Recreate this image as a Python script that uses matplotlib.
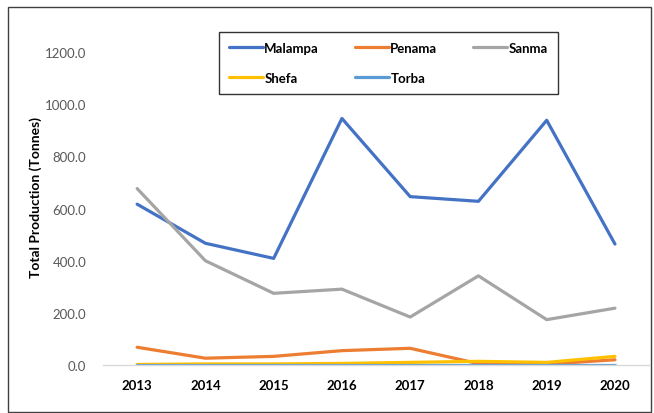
import matplotlib.pyplot as plt
from matplotlib.patches import Rectangle

years = ['2013', '2014', '2015', '2016', '2017', '2018', '2019', '2020']
malampa = [617, 467, 409, 946, 646, 628, 939, 464]
penama = [68, 26, 33, 55, 64, 5, 3, 20]
sanma = [677, 400, 275, 291, 184, 342, 174, 218]
shefa = [2, 4, 4, 6, 10, 14, 10, 33]
torba = [1, 1, 1, 1, 1, 1, 1, 1]

series = [
    ('Malampa', malampa, '#4472C4'),
    ('Penama', penama, '#ED7D31'),
    ('Sanma', sanma, '#A5A5A5'),
    ('Shefa', shefa, '#FFC000'),
    ('Torba', torba, '#5B9BD5'),
]

plt.rcParams['font.family'] = ['Lato', 'DejaVu Sans']

fig = plt.figure(figsize=(6.54, 4.14), dpi=100)
ax = fig.add_axes([0.1575, 0.116, 0.835, 0.812])

x = list(range(len(years)))
lines = {}
for name, vals, col in series:
    lines[name], = ax.plot(x, vals, color=col, lw=2.3, label=name, solid_capstyle='round')

ax.set_xlim(-0.5, len(years) - 0.5)
ax.set_ylim(0, 1290)
ax.set_yticks(range(0, 1201, 200))
ax.set_yticklabels([f'{v:.1f}' for v in range(0, 1201, 200)])
ax.set_xticks(x)
ax.set_xticklabels(years, fontweight='bold')

for s in ['top', 'right', 'left']:
    ax.spines[s].set_visible(False)
ax.spines['bottom'].set_color('#D9D9D9')
ax.spines['bottom'].set_linewidth(1)
ax.tick_params(axis='both', length=0)
ax.tick_params(axis='y', labelsize=9.5, labelcolor='#595959', pad=12)
ax.tick_params(axis='x', labelsize=9.5, labelcolor='black', pad=10)

ax.set_ylabel('Total Production (Tonnes)', fontsize=10, fontweight='bold', labelpad=2)

# legend fills column by column, so reorder to read row by row
order = ['Malampa', 'Shefa', 'Penama', 'Torba', 'Sanma']
leg = ax.legend([lines[n] for n in order], order, ncol=3, loc='upper left',
                bbox_to_anchor=(0.2, 1.01),
                frameon=True, fancybox=False, edgecolor='black',
                fontsize=9.5, handlelength=2.6, handletextpad=0.1,
                columnspacing=2.7, borderpad=0.75, labelspacing=1.35)
leg.get_frame().set_linewidth(1)
for t in leg.get_texts():
    t.set_fontweight('bold')

fig.patches.append(Rectangle((8 / 654, 1 / 414), 643 / 654, 405 / 414,
                             transform=fig.transFigure, fill=False,
                             edgecolor='#404040', lw=1))

plt.savefig('out.png', dpi=100)
